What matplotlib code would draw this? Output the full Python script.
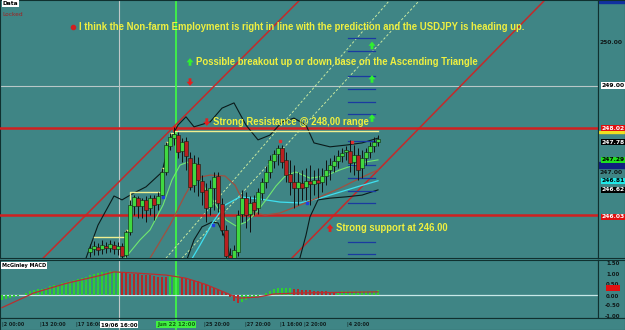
import matplotlib
matplotlib.use('Agg')
import matplotlib.pyplot as plt
import numpy as np

# ---------------- data ----------------
bar_idx = list(range(22, 95))
opens = [245.17, 245.24, 245.29, 245.24, 245.31, 245.26, 245.33, 245.24, 245.31, 245.10,
         245.63, 246.23, 246.41, 246.23, 246.37, 246.18, 246.41, 246.28, 246.48, 247.01,
         247.61, 247.79, 247.86, 247.49, 247.72, 247.33, 246.71, 247.20, 246.80, 246.60,
         246.21, 246.64, 246.92, 246.28, 245.68, 245.10, 244.94, 245.17, 246.05, 246.41,
         246.05, 246.32, 246.18, 246.53, 246.78, 247.01, 247.26, 247.43, 247.56, 247.29,
         246.97, 246.78, 246.64, 246.76, 246.67, 246.80, 246.74, 246.83, 246.78, 246.92,
         247.06, 247.15, 247.26, 247.38, 247.47, 247.49, 247.24, 247.40, 247.10, 247.33,
         247.47, 247.61, 247.70]
closes = [245.26, 245.31, 245.22, 245.33, 245.26, 245.36, 245.24, 245.31, 245.08, 245.63,
          246.25, 246.44, 246.23, 246.37, 246.14, 246.41, 246.25, 246.46, 247.01, 247.63,
          247.82, 247.89, 247.47, 247.70, 247.38, 246.67, 247.22, 246.83, 246.55, 246.18,
          246.64, 246.90, 246.30, 245.68, 245.08, 244.94, 245.22, 246.02, 246.41, 246.02,
          246.30, 246.14, 246.55, 246.78, 247.01, 247.29, 247.43, 247.56, 247.24, 246.94,
          246.78, 246.64, 246.78, 246.64, 246.80, 246.74, 246.83, 246.76, 246.92, 247.06,
          247.17, 247.26, 247.38, 247.45, 247.52, 247.22, 247.40, 247.06, 247.33, 247.47,
          247.61, 247.70, 247.78]
highs = [245.36, 245.43, 245.38, 245.45, 245.40, 245.45, 245.43, 245.40, 245.38, 245.68,
         246.37, 246.48, 246.46, 246.41, 246.46, 246.48, 246.48, 246.55, 247.10, 247.70,
         247.91, 248.05, 247.93, 247.79, 247.82, 247.47, 247.40, 247.36, 246.94, 246.76,
         246.83, 247.01, 247.01, 246.41, 245.79, 245.26, 245.33, 246.14, 246.60, 246.55,
         246.46, 246.48, 246.64, 246.87, 247.15, 247.40, 247.52, 247.63, 247.63, 247.47,
         247.29, 247.17, 247.01, 247.06, 247.10, 247.17, 247.06, 247.10, 247.10, 247.29,
         247.33, 247.40, 247.52, 247.56, 247.61, 247.75, 247.63, 247.56, 247.52, 247.56,
         247.70, 247.82, 247.86]
lows = [245.06, 245.10, 245.10, 245.13, 245.15, 245.17, 245.13, 245.10, 245.03, 245.06,
        245.56, 246.02, 245.95, 245.95, 245.86, 246.02, 245.91, 246.14, 246.41, 246.94,
        247.52, 247.63, 247.33, 247.24, 247.06, 246.60, 246.55, 246.46, 246.25, 245.86,
        246.02, 246.14, 246.09, 245.56, 244.99, 244.87, 244.85, 245.08, 245.86, 245.72,
        245.63, 246.02, 246.05, 246.37, 246.64, 246.87, 247.10, 247.17, 247.10, 246.78,
        246.48, 246.18, 246.25, 246.37, 246.37, 246.25, 246.48, 246.41, 246.55, 246.71,
        246.83, 247.01, 247.10, 247.24, 247.29, 247.01, 246.94, 246.83, 246.87, 247.17,
        247.33, 247.47, 247.60]

# indicator lines: (bar index, price)
upper_idx = [21, 24, 28, 30, 33, 36, 40, 42, 44, 46, 48, 52, 55, 58, 61, 64, 67, 70, 73, 76, 78, 82, 86, 90, 94]
upper_val = [245.03, 245.79, 246.46, 246.37, 246.53, 246.67, 247.01, 247.75, 248.09, 248.28, 248.05, 248.16,
             248.48, 248.60, 248.09, 247.75, 247.86, 248.16, 248.25, 248.09, 247.68, 247.59, 247.63, 247.68, 247.79]
lower_idx = [46, 48, 50, 52.5, 54, 56, 57.5, 74, 76, 77, 79, 82, 86, 90, 94]
lower_val = [244.94, 245.45, 245.75, 245.86, 245.84, 245.45, 244.87, 244.87, 245.56, 245.98, 246.37, 246.41,
             246.44, 246.48, 246.60]
cyan_idx = [47, 49.5, 52.75, 55.75, 59.5, 64.5, 69.5, 74.5, 79.5, 84.5, 89.5, 94]
cyan_val = [244.94, 245.33, 245.86, 246.25, 246.44, 246.39, 246.32, 246.30, 246.41, 246.55, 246.69, 246.81]
green_idx = [30.75, 34.5, 37, 40.25, 42.5, 44.5, 46.5, 48.5, 51, 53.5, 56, 58.5, 61, 63.5, 66, 68.5, 71,
             73.5, 77, 80.75, 84.5, 89.5, 94]
green_val = [245.03, 245.45, 245.68, 246.25, 246.83, 247.17, 247.24, 247.01, 246.60, 246.25, 245.91, 245.77,
             245.86, 246.07, 246.37, 246.69, 246.94, 247.01, 246.87, 246.92, 247.06, 247.22, 247.29]
brown_idx = [37, 42, 45.75, 48.25, 52, 55.75, 58.25, 60.75, 63.25, 65.75, 69.5, 74.5, 79.5, 84.5, 89.5, 94]
brown_val = [245.03, 245.79, 246.48, 246.87, 246.94, 246.92, 246.71, 246.25, 246.07, 246.02, 246.07, 246.25,
             246.44, 246.64, 246.87, 247.06]
donch_idx = [23, 31, 32, 40, 41, 42, 43, 94]
donch_val = [245.52, 245.68, 246.55, 247.10, 247.70, 247.91, 247.95, 247.95]
red_dots = [(69.5, 247.72), (87.5, 247.70)]
blue_dots = [(40.25, 246.44), (52.75, 245.79), (76.25, 246.30)]

# drawn objects
resistance = 248.02
support = 246.03
crosshair_price = 249.00
crosshair_bar = 29.25
marker_bar = 43.5
trend_red = [((8, 244.82), (76, 251.11)), ((70, 244.80), (138, 251.18))]
trend_dashed = [((41, 245.03), (97, 250.97)), ((45, 245.03), (104.5, 250.97))]
fib_levels = [250.09, 249.79, 249.22, 248.92, 248.62, 248.35, 247.72, 247.17, 246.87, 246.58, 246.30,
              245.40, 245.13]
fib_span = (86.5, 93.25)

notes = ["I think the Non-farm Employment is right in line with the prediction and the USDJPY is heading up.",
         "Possible breakout up or down base on the Ascending Triangle",
         "Strong Resistance @ 248,00 range",
         "Strong support at 246.00"]
note_pos = [(19.3, 250.35), (48.5, 249.54), (52.7, 248.16), (83.6, 245.72)]
arrows_up_green = [(47.0, 249.54), (92.5, 249.92), (92.5, 249.15), (92.5, 248.25)]
arrows_down_red = [(47.0, 249.08), (51.2, 248.16)]
arrows_up_red = [(82.0, 245.72)]

# MACD
macd_hist = [-0.25, -0.2, -0.15, -0.1, -0.05, 0.02, 0.1, 0.18, 0.25, 0.28, 0.3, 0.35, 0.42, 0.48, 0.5, 0.55,
             0.6, 0.68, 0.72, 0.75, 0.8, 0.85, 0.95, 1.0, 1.05, 1.1, 1.11, 1.12, 1.13, 1.14, 1.06, 1.03, 1.0,
             0.99, 0.98, 0.96, 0.95, 0.93, 0.9, 0.88, 0.86, 0.85, 0.9, 0.92, 0.93, 0.88, 0.82, 0.75, 0.7, 0.65,
             0.58, 0.5, 0.42, 0.35, 0.28, 0.18, 0.08, -0.1, -0.3, -0.4, -0.35, -0.25, -0.15, -0.1, -0.05,
             0.02, 0.1, 0.2, 0.28, 0.32, 0.33, 0.34, 0.35, 0.3, 0.28, 0.26, 0.24, 0.22, 0.2, 0.19, 0.18, 0.17,
             0.16, 0.15, 0.16, 0.17, 0.18, 0.18, 0.19, 0.19, 0.2, 0.2, 0.21, 0.21, 0.22]
sig_idx = [0, 8, 16, 25, 28, 33, 41, 46, 51, 56, 59, 64, 68, 75, 94]
sig_val = [-0.6, 0.1, 0.55, 0.95, 1.1, 1.05, 0.95, 0.8, 0.5, 0.1, -0.15, -0.1, 0.05, 0.1, 0.15]
macd_last = 0.12

price_ticks = ["250.00", "247.00"]
price_tick_vals = [250.00, 247.00]
box_labels = [("249.00", 249.00, "white", "black"), ("248.02", 248.02, "#e01010", "white"),
              ("247.78", 247.70, "black", "white"), ("247.29", 247.29, "#20e020", "black"),
              ("246.81", 246.81, "#20e8e8", "black"), ("246.62", 246.60, "black", "white"),
              ("246.03", 245.98, "#e01010", "white")]
macd_ticks = [1.5, 1.0, 0.5, 0.0, -0.5, -1.0]
time_labels = ["2 00:00", "13 20:00", "17 16:00", "19/06 16:00", "Jun 22 12:00", "25 20:00", "27 20:00",
               "1 16:00", "2 20:00", "4 20:00"]
time_label_bars = [0.0, 9.5, 18.5, 29.25, 43.5, 50.5, 60.8, 69.6, 75.6, 86.2]

# ---------------- drawing ----------------
W, H = 625, 330
BG = '#3f8585'
fig = plt.figure(figsize=(W / 100, H / 100), dpi=100)
fig.patch.set_facecolor(BG)


def box(x0, y0, x1, y1):
    return [x0 / W, 1 - y1 / H, (x1 - x0) / W, (y1 - y0) / H]


XL = (-0.5, 149.0)
YL = (245.034, 250.966)
ax = fig.add_axes(box(0, 0, 598, 258))
axm = fig.add_axes(box(0, 260, 598, 318))
axr = fig.add_axes(box(598, 0, 625, 258))
axmr = fig.add_axes(box(598, 260, 625, 318))
axt = fig.add_axes(box(0, 318, 625, 330))
for a in (ax, axm, axr, axmr, axt):
    a.set_facecolor(BG)
    a.set_xticks([])
    a.set_yticks([])
    for s in a.spines.values():
        s.set_color('#10302f')
        s.set_linewidth(0.8)
ax.set_xlim(*XL)
ax.set_ylim(*YL)
axm.set_xlim(*XL)
MY = (-1.095, 1.667)
axm.set_ylim(*MY)
axr.set_ylim(*YL)
axr.set_xlim(0, 1)
axmr.set_ylim(*MY)
axmr.set_xlim(0, 1)
axt.set_xlim(*[(v - 2) / 4 for v in (0, 625)])
axt.set_ylim(0, 1)

# crosshair and marker lines
ax.axhline(crosshair_price, color='#b8c8c8', lw=0.8, zorder=1)
for a in (ax, axm, axt):
    a.axvline(crosshair_bar, color='#c0c8c8', lw=0.8, zorder=1)
    a.axvline(marker_bar, color='#40ff40', lw=1.2, zorder=1)

# trend lines
for (p0, p1) in trend_red:
    ax.plot([p0[0], p1[0]], [p0[1], p1[1]], color='#c42a2a', lw=1.1, zorder=2)
for (p0, p1) in trend_dashed:
    ax.plot([p0[0], p1[0]], [p0[1], p1[1]], color='#c8e8a0', lw=0.7, ls=(0, (2.5, 2)), zorder=2)
ax.axhline(resistance, color='#d02020', lw=1.8, zorder=3)
ax.axhline(support, color='#d02020', lw=1.8, zorder=3)
ax.plot([marker_bar - 0.3], [resistance], marker='*', color='#e02020', ms=5, zorder=3)

# indicators
ax.plot(upper_idx, upper_val, color='#0a1a1a', lw=0.8, zorder=4)
ax.plot(lower_idx, lower_val, color='#0a1a1a', lw=0.8, zorder=4)
ax.plot(cyan_idx, cyan_val, color='#40e0f0', lw=0.9, zorder=4)
ax.plot(green_idx, green_val, color='#70e870', lw=0.8, zorder=4)
ax.plot(brown_idx, brown_val, color='#a05040', lw=0.9, zorder=4)
ax.plot(donch_idx, donch_val, color='#f0f090', lw=1.0, drawstyle='steps-post', zorder=4)

# fib levels
for lv in fib_levels:
    ax.plot(fib_span, [lv, lv], color='#1a3aa0', lw=0.9, zorder=4)

# candles
for i, o, h, l, c in zip(bar_idx, opens, highs, lows, closes):
    ax.vlines(i, l, h, color='#101010', lw=0.7, zorder=5)
    col = '#40d840' if c >= o else '#b82020'
    ax.bar(i, c - o if c != o else 0.01, bottom=o, width=0.8, color=col, edgecolor='#102010',
           linewidth=0.4, zorder=6)
for (x, y) in red_dots:
    ax.plot([x], [y], 's', color='#e03030', ms=1.6, zorder=7)
for (x, y) in blue_dots:
    ax.plot([x], [y], 's', color='#2040e0', ms=1.8, zorder=7)

# notes
for txt, (x, y) in zip(notes, note_pos):
    ax.text(x, y, txt, color='#f0f040', fontsize=6.85, fontweight='bold', family='Liberation Sans',
            va='center', ha='left', zorder=8)
ax.plot([note_pos[0][0] - 1.6], [note_pos[0][1]], 'o', color='#d02020', ms=3, zorder=8)


def arrow(x, y, up, col):
    ax.annotate('', xy=(x, y), xycoords='data', xytext=(0, -5.5 if up else 5.5),
                textcoords='offset points',
                arrowprops=dict(arrowstyle='simple,head_width=0.5,head_length=0.3,tail_width=0.2',
                                color=col, lw=0, shrinkA=0, shrinkB=0, mutation_scale=10), zorder=8)


for (x, y) in arrows_up_green:
    arrow(x, y + 0.09, True, '#30f030')
for (x, y) in arrows_down_red:
    arrow(x, y - 0.09, False, '#e02020')
for (x, y) in arrows_up_red:
    arrow(x, y + 0.09, True, '#e02020')

# top-left labels
ax.text(0.004, 0.995, "Data", transform=ax.transAxes, fontsize=4.2, fontweight='bold', va='top',
        ha='left', color='black', bbox=dict(boxstyle='square,pad=0.15', fc='white', ec='none'), zorder=9)
ax.text(0.004, 0.955, "Locked", transform=ax.transAxes, fontsize=4.2, va='top', ha='left',
        color='#a02020', zorder=9)

# right price axis
for t, v in zip(price_ticks, price_tick_vals):
    axr.text(0.5, v, t, fontsize=4.3, fontweight='bold', color='#101818', ha='center', va='center')
for t, v, fc, tc in box_labels:
    axr.text(0.55, v, t, fontsize=4.3, fontweight='bold', color=tc, ha='center', va='center',
             bbox=dict(boxstyle='square,pad=0.12', fc=fc, ec='none'))
axr.add_patch(plt.Rectangle((0.05, 247.91), 0.95, 0.05, color='#f0e020'))
axr.add_patch(plt.Rectangle((0.05, 247.11), 0.95, 0.13, color='#102080'))
axr.add_patch(plt.Rectangle((0.05, 250.90), 0.95, 0.1, color='#1030a0'))

# MACD
hist = np.array(macd_hist)
xs = np.arange(len(hist))
prev = np.concatenate([[hist[0] - 1], hist[:-1]])
cols = np.where(hist >= prev, '#30d030', '#b82828')
axm.bar(xs, hist, width=0.55, color=cols, zorder=3)
axm.axhline(0, color='#c8e8e8', lw=0.9, zorder=2)
axm.plot(sig_idx, sig_val, color='#b83030', lw=0.9, zorder=4)
axm.text(0.003, 0.95, "McGinley MACD", transform=axm.transAxes, fontsize=3.6, fontweight='bold',
         va='top', ha='left', color='black', bbox=dict(boxstyle='square,pad=0.15', fc='white', ec='none'))
for v in macd_ticks:
    axmr.text(0.55, v - (0.06 if v == 0 else 0), f"{v:.2f}", fontsize=3.9, fontweight='bold',
              color='#101818', ha='center', va='center')
axmr.text(0.55, macd_last + 0.2, f"{macd_last:.2f}", fontsize=3.9, fontweight='bold', color='#e01010',
          ha='center', va='center', bbox=dict(boxstyle='square,pad=0.1', fc='#e01010', ec='none'))

# time axis
for t, b in zip(time_labels, time_label_bars):
    if t.startswith("19/06"):
        axt.text(b, 0.45, t, fontsize=4.0, fontweight='bold', ha='center', va='center', color='black',
                 zorder=5, bbox=dict(boxstyle='square,pad=0.15', fc='white', ec='none'))
    elif t.startswith("Jun"):
        axt.text(b, 0.45, t, fontsize=4.0, fontweight='bold', ha='center', va='center', color='#106010',
                 zorder=5, bbox=dict(boxstyle='square,pad=0.15', fc='#40f040', ec='none'))
    else:
        axt.text(b, 0.45, "|" + t, fontsize=3.5, fontweight='bold', ha='left', va='center',
                 color='#102020')

fig.savefig('out.png', dpi=100, facecolor=BG)
